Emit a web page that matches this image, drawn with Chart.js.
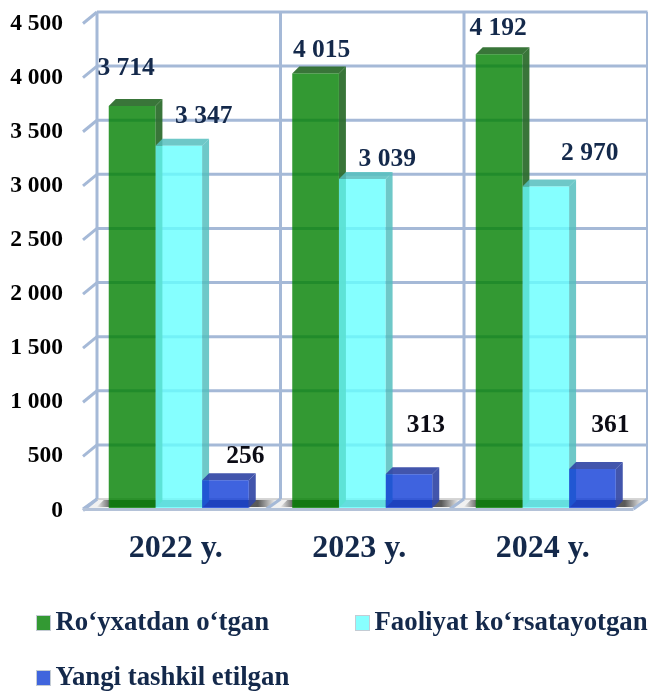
<!DOCTYPE html>
<html><head><meta charset="utf-8">
<style>html,body{margin:0;padding:0;background:#fff}#w{width:648px;height:693px;position:relative}</style>
<script src="https://cdn.jsdelivr.net/npm/chart.js@4"></script></head>
<body><div id="w"><canvas id="c" width="648" height="693"></canvas></div>
<script>
const categories = ["2022 y.", "2023 y.", "2024 y."];
const registered = [3714, 4015, 4192];
const active = [3347, 3039, 2970];
const newlyFounded = [256, 313, 361];
const seriesNames = ["Ro‘yxatdan o‘tgan", "Faoliyat ko‘rsatayotgan", "Yangi tashkil etilgan"];
const yTicks = [0, 500, 1000, 1500, 2000, 2500, 3000, 3500, 4000, 4500];

const SERIF = '"Liberation Serif","Times New Roman",serif';
const NAVY = '#14294b';
const faces = [
  {front:'rgba(0,128,0,0.8)', side:'rgba(40,105,40,0.92)', key:'#339933'},
  {front:'rgba(102,255,255,0.8)', side:'rgba(85,190,190,0.85)', key:'#88ffff'},
  {front:'rgba(15,60,215,0.8)', side:'rgba(50,70,165,0.92)', key:'#4065dd'}
];
// label displacement from the bar top centre, [dx, dy] per series and category
const labelShift = [
  [[-6,-38],[6,-23],[-1,-26]],
  [[25,-29],[25,-20],[44,-33]],
  [[20,-24],[17,-49],[18,-44]]
];
const labelInk = [[NAVY,NAVY,NAVY],[NAVY,NAVY,NAVY],['#0b0b14','#0b0b14','#0b0b14']];
const WALL_DX = 14, WALL_DY = 9, BAR_D = 7, X_SHIFT = 4;
const GRID = '#a5b9d7';

function para(ctx, pts, fill){
  ctx.beginPath(); pts.forEach((p,i)=> i?ctx.lineTo(p[0],p[1]):ctx.moveTo(p[0],p[1]));
  ctx.closePath(); ctx.fillStyle = fill; ctx.fill();
}
function seg(ctx,x1,y1,x2,y2,w,col){
  ctx.beginPath(); ctx.moveTo(x1,y1); ctx.lineTo(x2,y2); ctx.lineWidth=w; ctx.strokeStyle=col; ctx.stroke();
}
const box3d = {
  id:'box3d',
  beforeDatasetsDraw(chart){
    const {ctx, scales:{x,y}} = chart;
    const y0 = y.getPixelForValue(0), cat = x.width/categories.length;
    const fx = x.left - X_SHIFT, bx = fx + WALL_DX, right = bx + cat*categories.length;
    ctx.save(); ctx.lineCap='butt';
    // floor
    para(ctx,[[fx,y0],[bx,y0-WALL_DY],[right,y0-WALL_DY],[right-WALL_DX,y0]],'#f1f1f1');
    // shadows on the floor
    const m0 = chart.getDatasetMeta(0), m2 = chart.getDatasetMeta(2);
    categories.forEach((_,i)=>{
      const l = m0.data[i].x - m0.data[i].width/2 - 12, r = m2.data[i].x + m2.data[i].width/2 + 27;
      const g = ctx.createLinearGradient(l,0,r,0);
      g.addColorStop(0,'rgba(40,40,40,0)'); g.addColorStop(.08,'rgba(40,40,40,.75)');
      g.addColorStop(.9,'rgba(40,40,40,.75)'); g.addColorStop(1,'rgba(40,40,40,0)');
      para(ctx,[[l,y0-1],[l+7,y0-8],[r,y0-8],[r-7,y0-1]],g);
    });
    // back wall grid and left side ticks
    yTicks.forEach(v=>{
      const py = y.getPixelForValue(v);
      if(v>0) seg(ctx,bx,py-WALL_DY,right,py-WALL_DY,3,GRID);
      seg(ctx,fx,py+2.5,bx,py-WALL_DY,3,GRID);
    });
    seg(ctx,bx,y0-WALL_DY,right,y0-WALL_DY,1.5,'#c8c8c8');
    const top = y.getPixelForValue(4500)-WALL_DY;
    for(let i=0;i<=categories.length;i++){
      const vx = bx + cat*i;
      seg(ctx,vx,top,vx,y0-WALL_DY,3,GRID);
      seg(ctx,vx,y0-WALL_DY,vx-WALL_DX,y0+1,3,GRID);
    }
    seg(ctx,fx,y0+1.5,right-WALL_DX,y0+1.5,3,'#b4c2d8');
    ctx.restore();
    // side and top faces, left to right, so nearer series cover them
    faces.forEach((f,s)=>{
      chart.getDatasetMeta(s).data.forEach(b=>{
        const l=b.x-b.width/2, r=b.x+b.width/2, t=b.y, bt=b.base;
        para(ctx,[[r,t],[r+BAR_D,t-BAR_D],[r+BAR_D,bt-BAR_D],[r,bt]],f.side);
        para(ctx,[[l,t],[l+BAR_D,t-BAR_D],[r+BAR_D,t-BAR_D],[r,t]],f.side);
      });
    });
  },
  afterDatasetsDraw(chart){
    const {ctx} = chart;
    ctx.save();
    ctx.font = 'bold 25.5px '+SERIF; ctx.textAlign='center'; ctx.textBaseline='middle';
    chart.data.datasets.forEach((ds,s)=>{
      chart.getDatasetMeta(s).data.forEach((b,i)=>{
        const txt = String(ds.data[i]).replace(/\B(?=(\d{3})+$)/,' ');
        ctx.fillStyle = labelInk[s][i];
        ctx.fillText(txt, b.x+labelShift[s][i][0], b.y+labelShift[s][i][1]);
      });
    });
    // legend
    const cells = [[36,623],[355,623],[36,678]];
    ctx.textAlign='left'; ctx.font='bold 26.8px '+SERIF;
    chart.data.datasets.forEach((ds,s)=>{
      const [lx,ly]=cells[s];
      ctx.fillStyle='#c4ccd4'; ctx.fillRect(lx,ly-8,15,16);
      ctx.fillStyle=faces[s].key; ctx.fillRect(lx+1,ly-7,13,14);
      ctx.fillStyle=NAVY; ctx.fillText(ds.label,lx+19.5,ly);
    });
    ctx.restore();
  }
};
new Chart(document.getElementById('c'),{
  type:'bar',
  data:{labels:categories,datasets:[
    {label:seriesNames[0],data:registered,backgroundColor:faces[0].front},
    {label:seriesNames[1],data:active,backgroundColor:faces[1].front},
    {label:seriesNames[2],data:newlyFounded,backgroundColor:faces[2].front}
  ]},
  options:{
    responsive:false,animation:false,
    layout:{padding:{top:21,right:10.5,left:0,bottom:0}},
    categoryPercentage:.763,barPercentage:1,
    plugins:{legend:{display:false},tooltip:{enabled:false}},
    scales:{
      x:{grid:{display:false},border:{display:false},
        afterFit(s){s.height=185;},
        ticks:{color:NAVY,font:{family:SERIF,weight:'bold',size:32},padding:14,labelOffset:-3,maxRotation:0}},
      y:{min:0,max:4500,grid:{display:false,drawTicks:false},border:{display:false},
        afterFit(s){s.width=87;s.paddingTop=0;s.paddingBottom=0;},
        ticks:{stepSize:500,color:'#000',font:{family:SERIF,weight:'bold',size:23.5},padding:24,labelOffset:2.5,
          callback:v=>String(v).replace(/\B(?=(\d{3})+$)/,' ')}}
    }
  },
  plugins:[box3d]
});
</script></body></html>
